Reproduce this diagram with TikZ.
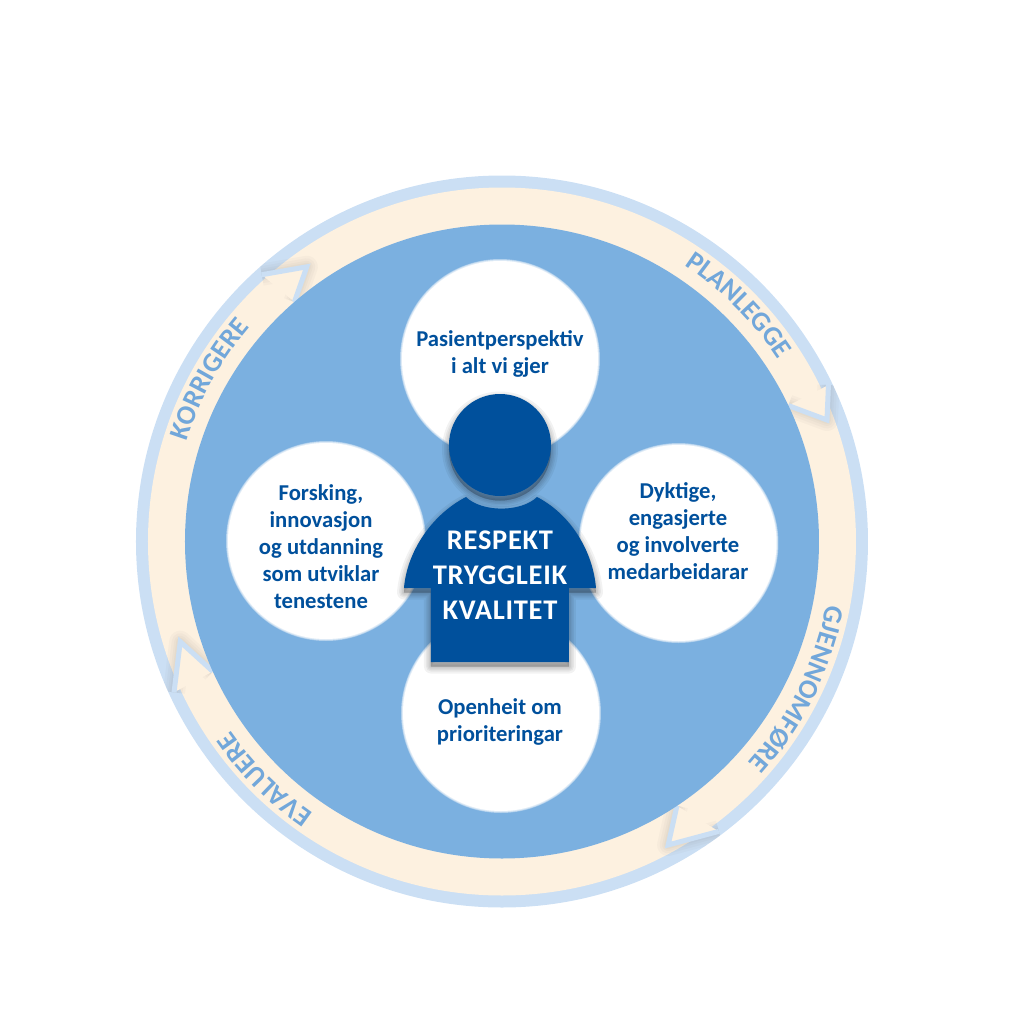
\documentclass[tikz,border=0pt]{standalone}
\usepackage{fontspec}
\setmainfont{Carlito}
\usetikzlibrary{decorations.text}
\definecolor{discblue}{HTML}{7BB0E0}
\definecolor{bandblue}{HTML}{CBDFF4}
\definecolor{ringcream}{HTML}{FDF1E0}
\definecolor{ringtext}{HTML}{72A7DA}
\definecolor{shirtblue}{HTML}{00509C}
\newfontface\ringfont{Carlito Bold}
\newfontface\shirtfont[LetterSpace=2.5]{Carlito Bold}
\tikzset{
	spottext/.style={align=center, text=shirtblue, font=\bfseries\fontsize{6.45}{7.7}\selectfont},
	shirttext/.style={align=center, text=white, font=\shirtfont\fontsize{8.1}{10}\selectfont}
}
% tip of a ring arrow: outer corner, point, inner corner (angle:radius)
\def\ringtip(#1)(#2)(#3){
	\foreach \w in {0.22,0.17,0.12,0.08} {\draw[black!60, opacity=0.04, line width=\w cm, line join=round] (#1) -- (#2) -- (#3);}
	\fill[ringcream] (#1) -- (#2) -- (#3) -- cycle;
	\draw[bandblue, line width=0.05cm, line join=miter] (#1) -- (#2) -- (#3);
}
\def\ringlabel(#1:#2)#3{\path[decorate, decoration={text along path, text align=center, text color=ringtext, text={|\ringfont\fontsize{7.8}{8}\selectfont|#3}}] (#1+25:#2) arc (#1+25:#1-25:#2);}
% white spot with a soft edge
\def\spot(#1){
	\foreach \g in {1.0,0.995,0.99,0.985} {\fill[white, opacity=0.35] (#1) circle (\g);}
	\fill[white] (#1) circle (0.98);
}
% soft shadow under a filled path
\def\softdrop#1{
	\foreach \w in {0.14,0.1,0.07,0.04,0.01} {\path[fill=black, draw=black, opacity=0.05, line width=\w cm, line join=round, yshift=-0.045cm] #1;}
}
\def\headpath{(-0.02, 0.965) circle (0.51)}
\def\shirtpath{(-0.71, -1.205) -- (-0.71, -0.465) -- (-0.98, -0.465)
	.. controls (-0.95, -0.1) and (-0.7, 0.27) .. (-0.36, 0.445)
	.. controls (-0.2, 0.29) and (0.19, 0.29) .. (0.35, 0.445)
	.. controls (0.69, 0.27) and (0.91, -0.1) .. (0.94, -0.465)
	-- (0.67, -0.465) -- (0.67, -1.205) -- cycle}

\begin{document}
\begin{tikzpicture}
	\useasboundingbox (-5.02, -4.825) rectangle (5.22, 5.415);
	
	%%% ring
	\fill[bandblue] (0, 0) circle (3.66);
	\fill[ringcream] (0, 0) circle (3.54);
	
	\begin{scope}
		\clip (0, 0) circle (3.66);
		\ringtip(25.6:3.62)(20.5:3.47)(25.4:3.17)
		\ringtip(-53.2:3.62)(-61.3:3.46)(-56.5:3.17)
		\ringtip(204.7:3.61)(197.3:3.37)(204.2:3.17)
		\ringtip(132:3.59)(125.4:3.37)(130.9:3.17)
	\end{scope}
	
	\ringlabel(45:3.31){PLANLEGGE}
	\ringlabel(-26.5:3.31){GJENNOMFØRE}
	\ringlabel(225:3.31){EVALUERE}
	\ringlabel(151:3.31){KORRIGERE}
	
	%%% disc and the four spots
	\fill[discblue] (0, 0) circle (3.17);
	\spot(-0.02, 1.825)
	\spot(-1.76, 0.005)
	\spot(1.765, -0.015)
	\spot(-0.01, -1.715)
	
	\node[spottext] (perspektiv) at (-0.02, 1.875) {Pasientperspektiv\\i alt vi gjer};
	\node[spottext] (forsking) at (-1.81, -0.05) {Forsking,\\innovasjon\\og utdanning\\som utviklar\\tenestene};
	\node[spottext] (dyktige) at (1.76, 0.10) {Dyktige,\\engasjerte\\og involverte\\medarbeidarar};
	\node[spottext] (openheit) at (-0.02, -1.805) {Openheit om\\prioriteringar};
	
	%%% person
	\softdrop{\headpath}
	\fill[shirtblue] \headpath;
	\softdrop{\shirtpath}
	\fill[shirtblue] \shirtpath;
	\node[shirttext] (respekt) at (-0.02, 0.015) {RESPEKT};
	\node[shirttext] (trygg) at (-0.02, -0.335) {TRYGGLEIK};
	\node[shirttext] (kvalitet) at (-0.02, -0.685) {KVALITET};
\end{tikzpicture}
\end{document}
